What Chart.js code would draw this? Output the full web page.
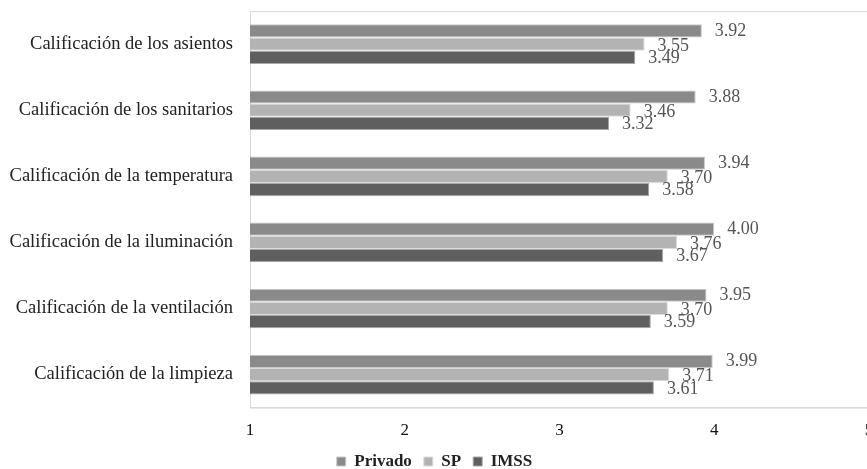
<!DOCTYPE html>
<html>
<head>
<meta charset="utf-8">
<script src="https://cdn.jsdelivr.net/npm/chart.js@4.4.0/dist/chart.umd.min.js"></script>
<style>
  html, body { margin: 0; padding: 0; background: #fff; overflow: hidden; }
  #wrap { width: 880px; height: 469px; }
</style>
</head>
<body>
<div id="wrap"><canvas id="chart"></canvas></div>
<script>
var categorias = [
    'Calificación de los asientos',
    'Calificación de los sanitarios',
    'Calificación de la temperatura',
    'Calificación de la iluminación',
    'Calificación de la ventilación',
    'Calificación de la limpieza'
];
var privado = [3.92, 3.88, 3.94, 4.00, 3.95, 3.99];
var sp = [3.55, 3.46, 3.70, 3.76, 3.70, 3.71];
var imss = [3.49, 3.32, 3.58, 3.67, 3.59, 3.61];
var ticksX = [1, 2, 3, 4, 5];

var serif = "'Liberation Serif', 'Times New Roman', serif";

// marco gris del area del grafico
var frame = {
    id: 'frame',
    beforeDatasetsDraw: function(chart) {
        var a = chart.chartArea, ctx = chart.ctx;
        ctx.save();
        ctx.strokeStyle = '#d9d9d9';
        ctx.lineWidth = 1;
        ctx.strokeRect(a.left + 0.5, a.top + 0.5, a.right - a.left, a.bottom - a.top);
        ctx.restore();
    }
};

// etiquetas de valor al final de cada barra
var valores = {
    id: 'valores',
    afterDatasetsDraw: function(chart) {
        var ctx = chart.ctx;
        var dy = [0, 2, 1];
        ctx.save();
        ctx.font = '18px ' + serif;
        ctx.fillStyle = '#555';
        ctx.textAlign = 'left';
        ctx.textBaseline = 'middle';
        chart.data.datasets.forEach(function(ds, i) {
            chart.getDatasetMeta(i).data.forEach(function(bar, j) {
                ctx.fillText(ds.data[j].toFixed(2), bar.x + 13, bar.y + dy[i]);
            });
        });
        ctx.restore();
    }
};

var chart = new Chart(document.getElementById('chart'), {
    type: 'bar',
    data: {
        labels: categorias,
        datasets: [
            { label: 'Privado', data: privado, backgroundColor: '#8a8a8a', borderColor: '#c8c8c8', borderWidth: 1 },
            { label: 'SP', data: sp, backgroundColor: '#b3b3b3', borderColor: '#dcdcdc', borderWidth: 1 },
            { label: 'IMSS', data: imss, backgroundColor: '#5f5f5f', borderColor: '#a8a8a8', borderWidth: 1 }
        ]
    },
    options: {
        indexAxis: 'y',
        responsive: true,
        maintainAspectRatio: false,
        animation: false,
        datasets: { bar: { barPercentage: 1, categoryPercentage: 0.6 } },
        layout: { padding: { top: 2, right: 11, left: 0, bottom: -11 } },
        scales: {
            x: {
                min: 1, max: 5,
                afterBuildTicks: function(scale) {
                    scale.ticks = ticksX.map(function(v) { return { value: v }; });
                },
                grid: { display: false, drawTicks: true, tickLength: 13 },
                border: { display: true, color: '#d9d9d9' },
                ticks: { color: '#111', font: { family: serif, size: 17 }, padding: 0 }
            },
            y: {
                grid: { display: false, drawTicks: true, tickLength: 17 },
                border: { display: true, color: '#d9d9d9' },
                afterFit: function(scale) { scale.width = 250; },
                ticks: { color: '#222', font: { family: serif, size: 18.5 }, padding: 0 }
            }
        },
        plugins: {
            legend: {
                position: 'bottom',
                labels: {
                    color: '#222',
                    boxWidth: 9, boxHeight: 9,
                    padding: 12,
                    font: { family: serif, size: 17, weight: 'bold' }
                }
            },
            tooltip: { enabled: false }
        }
    },
    plugins: [frame, valores]
});
</script>
</body>
</html>
